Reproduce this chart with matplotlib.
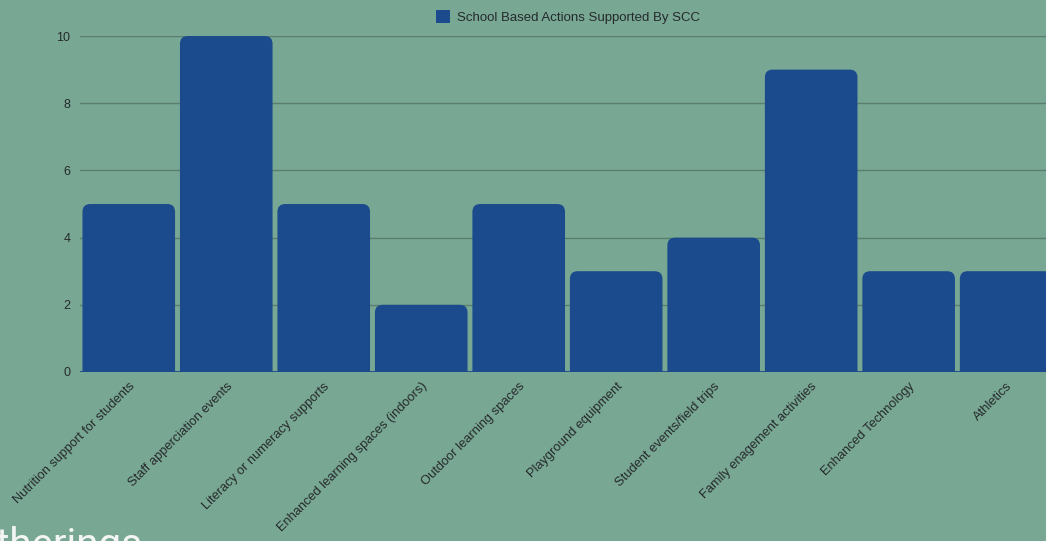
import matplotlib
matplotlib.use("Agg")
from matplotlib import pyplot as plt
from matplotlib.patches import FancyBboxPatch, Patch

categories = [
    "Nutrition support for students",
    "Staff apperciation events",
    "Literacy or numeracy supports",
    "Enhanced learning spaces (indoors)",
    "Outdoor learning spaces",
    "Playground equipment",
    "Student events/field trips",
    "Family enagement activities",
    "Enhanced Technology",
    "Athletics",
]
values = [5, 10, 5, 2, 5, 3, 4, 9, 3, 3]
series_name = "School Based Actions Supported By SCC"
y_ticks = [0, 2, 4, 6, 8, 10]

bg = "#78a894"
bar_color = "#1b4b8c"
text_color = "#26292c"

plt.rcParams["font.family"] = ["Liberation Sans", "DejaVu Sans"]

fig = plt.figure(figsize=(10.46, 5.41), dpi=100)
fig.patch.set_facecolor(bg)
ax = fig.add_axes([0.0765, 0.3124, 0.932, 0.621])
ax.set_facecolor(bg)

x = list(range(len(categories)))
bars = ax.bar(x, values, width=0.95, color=bar_color, alpha=0)

# swap plain bars for ones with rounded top corners
for rect in bars:
    bx, w, h = rect.get_x(), rect.get_width(), rect.get_height()
    patch = FancyBboxPatch(
        (bx, -0.6), w, h + 0.6,
        boxstyle="round,pad=0,rounding_size=0.08",
        mutation_aspect=2.9,
        facecolor=bar_color, edgecolor="none", zorder=3,
    )
    ax.add_patch(patch)

ax.set_xlim(-0.5, len(categories) - 0.5)
ax.set_ylim(0, 10)
ax.set_yticks(y_ticks)
ax.set_yticklabels([str(t) for t in y_ticks], fontsize=9, color=text_color)
ax.set_xticks(x)
ax.set_xticklabels(categories, rotation=45, ha="right", rotation_mode="anchor",
                   fontsize=9.3, color=text_color)
ax.tick_params(axis="both", length=0)
ax.tick_params(axis="y", pad=7)
ax.tick_params(axis="x", pad=6)

ax.grid(axis="y", color="#5b7d70", linewidth=1)
ax.set_axisbelow(True)
for s in ax.spines.values():
    s.set_visible(False)
ax.axhline(0, color=bar_color, linewidth=2, zorder=4)

handle = Patch(facecolor=bar_color, edgecolor="none")
leg = fig.legend([handle], [series_name], loc="center", bbox_to_anchor=(0.543, 0.969),
                 frameon=False, fontsize=9.5, handlelength=1.1, handleheight=1.1,
                 handletextpad=0.5)
for t in leg.get_texts():
    t.set_color(text_color)

# cut-off heading from the scanned page below the chart
fig.text(-0.05, -0.045, "Gatherings", fontsize=29, color="#f2f5f3",
         ha="left", va="bottom", family=["Roboto", "DejaVu Sans"])

fig.savefig("out.png", dpi=100, facecolor=bg)
